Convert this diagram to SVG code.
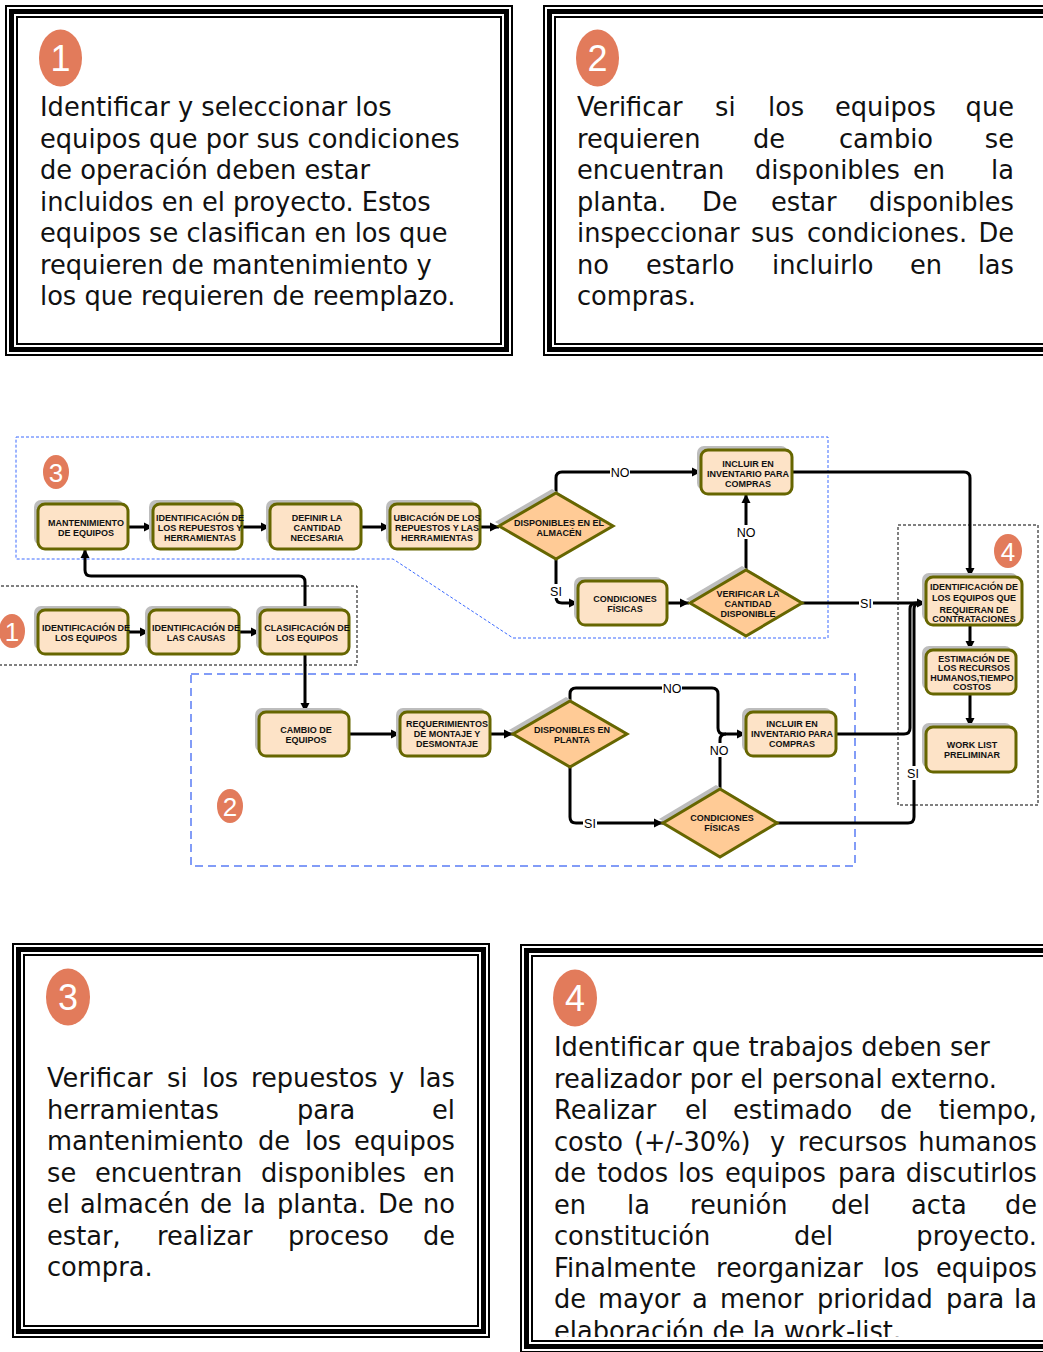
<svg xmlns="http://www.w3.org/2000/svg" width="1043" height="1352" viewBox="0 0 1043 1352">
  <defs>
    <style>
      .f-thin { fill: none; stroke: #000; stroke-width: 2; }
      .f-thick { fill: none; stroke: #000; stroke-width: 5; }
      .body { font-family: "DejaVu Sans", Verdana, sans-serif; font-size: 25.7px; fill: #111; }
      .r { text-anchor: end; }
      .badge { fill: #E27B5B; }
      .bnum { font-family: "Liberation Sans", Arial, sans-serif; fill: #fff; text-anchor: middle; }
      .shadow { fill: #BDBDBD; }
      .node { fill: #FDE3C7; stroke: #666600; stroke-width: 3; }
      .dec { fill: #FFCB96; stroke: #666600; stroke-width: 3; }
      .lbl { font-family: "Liberation Sans", Arial, sans-serif; font-weight: bold; font-size: 9px; fill: #111; text-anchor: middle; }
      .edge { fill: none; stroke: #000; stroke-width: 3; }
      .arrow { marker-end: url(#arr); }
      .yn { font-family: "Liberation Sans", Arial, sans-serif; font-size: 12.5px; fill: #000; text-anchor: middle; }
      .ynbg { fill: #fff; }
      .zone-blue-fine { fill: none; stroke: #3D6BFF; stroke-width: 1; stroke-dasharray: 3 2; }
      .zone-blue { fill: none; stroke: #5A7CF5; stroke-width: 1.5; stroke-dasharray: 8 5; }
      .zone-black { fill: none; stroke: #000; stroke-width: 1; stroke-dasharray: 3 2; }
    </style>
    <marker id="arr" markerUnits="userSpaceOnUse" markerWidth="10" markerHeight="10" refX="9" refY="5" orient="auto">
      <path d="M0,0.5 L9,5 L0,9.5 Z" fill="#000"/>
    </marker>
    <clipPath id="clip4">
      <rect x="532" y="956" width="520" height="381"/>
    </clipPath>
  </defs>

  <rect x="0" y="0" width="1043" height="1352" fill="#fff"/>

  <!-- Text panel 1 -->
  <g id="panel-1">
    <rect x="6" y="6" width="506" height="349" class="f-thin"/>
    <rect x="11.5" y="11.5" width="495" height="338" class="f-thick"/>
    <rect x="17" y="17" width="484" height="327" class="f-thin"/>
    <ellipse cx="60.5" cy="58" rx="21.5" ry="28.5" class="badge"/>
    <text x="60.5" y="71" class="bnum" font-size="36">1</text>
    <text class="body">
      <tspan x="40" y="116">Identificar y seleccionar los</tspan>
      <tspan x="40" y="147.5">equipos que por sus condiciones</tspan>
      <tspan x="40" y="179">de operación deben estar</tspan>
      <tspan x="40" y="210.5">incluidos en el proyecto. Estos</tspan>
      <tspan x="40" y="242">equipos se clasifican en los que</tspan>
      <tspan x="40" y="273.5">requieren de mantenimiento y</tspan>
      <tspan x="40" y="305">los que requieren de reemplazo.</tspan>
    </text>
  </g>

  <!-- Text panel 2 -->
  <g id="panel-2">
    <rect x="544" y="6" width="515" height="349" class="f-thin"/>
    <rect x="549.5" y="11.5" width="504" height="338" class="f-thick"/>
    <rect x="555" y="17" width="493" height="327" class="f-thin"/>
    <ellipse cx="597.5" cy="58" rx="21.5" ry="28.5" class="badge"/>
    <text x="597.5" y="71" class="bnum" font-size="36">2</text>
    <text class="body" y="116"><tspan x="577">Verificar</tspan><tspan x="715">si</tspan><tspan x="768">los</tspan><tspan x="835">equipos</tspan></text>
    <text class="body r" x="1014" y="116">que</text>
    <text class="body" y="147.5"><tspan x="577">requieren</tspan><tspan x="753">de</tspan><tspan x="839">cambio</tspan></text>
    <text class="body r" x="1014" y="147.5">se</text>
    <text class="body" y="179"><tspan x="577">encuentran</tspan><tspan x="755">disponibles</tspan><tspan x="913">en</tspan></text>
    <text class="body r" x="1014" y="179">la</text>
    <text class="body" y="210.5"><tspan x="577">planta.</tspan><tspan x="702">De</tspan><tspan x="771">estar</tspan></text>
    <text class="body r" x="1014" y="210.5">disponibles</text>
    <text class="body" y="242"><tspan x="577">inspeccionar</tspan><tspan x="751">sus</tspan><tspan x="807">condiciones.</tspan></text>
    <text class="body r" x="1014" y="242">De</text>
    <text class="body" y="273.5"><tspan x="577">no</tspan><tspan x="646">estarlo</tspan><tspan x="772">incluirlo</tspan><tspan x="910">en</tspan></text>
    <text class="body r" x="1014" y="273.5">las</text>
    <text class="body" x="577" y="305">compras.</text>
  </g>

  <!-- Text panel 3 -->
  <g id="panel-3">
    <rect x="13" y="944" width="476" height="393" class="f-thin"/>
    <rect x="18.5" y="949.5" width="465" height="382" class="f-thick"/>
    <rect x="24" y="955" width="454" height="371" class="f-thin"/>
    <ellipse cx="68" cy="997" rx="22" ry="28.5" class="badge"/>
    <text x="68" y="1010" class="bnum" font-size="36">3</text>
    <text class="body" y="1087"><tspan x="47">Verificar</tspan><tspan x="167">si</tspan><tspan x="202">los</tspan><tspan x="251">repuestos</tspan><tspan x="389">y</tspan></text>
    <text class="body r" x="455" y="1087">las</text>
    <text class="body" y="1118.5"><tspan x="47">herramientas</tspan><tspan x="297">para</tspan></text>
    <text class="body r" x="455" y="1118.5">el</text>
    <text class="body" y="1150"><tspan x="47">mantenimiento</tspan><tspan x="258">de</tspan><tspan x="305">los</tspan></text>
    <text class="body r" x="455" y="1150">equipos</text>
    <text class="body" y="1181.5"><tspan x="47">se</tspan><tspan x="95">encuentran</tspan><tspan x="261">disponibles</tspan></text>
    <text class="body r" x="455" y="1181.5">en</text>
    <text class="body" y="1213"><tspan x="47">el</tspan><tspan x="80">almacén</tspan><tspan x="200">de</tspan><tspan x="243">la</tspan><tspan x="277">planta.</tspan><tspan x="378">De</tspan></text>
    <text class="body r" x="455" y="1213">no</text>
    <text class="body" y="1244.5"><tspan x="47">estar,</tspan><tspan x="157">realizar</tspan><tspan x="288">proceso</tspan></text>
    <text class="body r" x="455" y="1244.5">de</text>
    <text class="body" x="47" y="1276">compra.</text>
  </g>

  <!-- Text panel 4 -->
  <g id="panel-4">
    <rect x="521" y="945" width="538" height="407" class="f-thin"/>
    <rect x="526.5" y="950.5" width="527" height="396" class="f-thick"/>
    <rect x="532" y="956" width="516" height="385" class="f-thin"/>
    <ellipse cx="575" cy="998" rx="22" ry="28.5" class="badge"/>
    <text x="575" y="1011" class="bnum" font-size="36">4</text>
    <g clip-path="url(#clip4)">
      <text class="body" x="554" y="1056">Identificar que trabajos deben ser</text>
      <text class="body" x="554" y="1087.5">realizador por el personal externo.</text>
      <text class="body" y="1119"><tspan x="554">Realizar</tspan><tspan x="685">el</tspan><tspan x="733">estimado</tspan><tspan x="880">de</tspan></text>
      <text class="body r" x="1037" y="1119">tiempo,</text>
      <text class="body" y="1150.5"><tspan x="554">costo</tspan><tspan x="634">(+/-30%)</tspan><tspan x="770">y</tspan><tspan x="798">recursos</tspan></text>
      <text class="body r" x="1037" y="1150.5">humanos</text>
      <text class="body" y="1182"><tspan x="554">de</tspan><tspan x="597">todos</tspan><tspan x="678">los</tspan><tspan x="725">equipos</tspan><tspan x="838">para</tspan></text>
      <text class="body r" x="1037" y="1182">discutirlos</text>
      <text class="body" y="1213.5"><tspan x="554">en</tspan><tspan x="627">la</tspan><tspan x="690">reunión</tspan><tspan x="831">del</tspan><tspan x="911">acta</tspan></text>
      <text class="body r" x="1037" y="1213.5">de</text>
      <text class="body" y="1245"><tspan x="554">constitución</tspan><tspan x="794">del</tspan></text>
      <text class="body r" x="1037" y="1245">proyecto.</text>
      <text class="body" y="1276.5"><tspan x="554">Finalmente</tspan><tspan x="716">reorganizar</tspan><tspan x="883">los</tspan></text>
      <text class="body r" x="1037" y="1276.5">equipos</text>
      <text class="body" y="1308"><tspan x="554">de</tspan><tspan x="598">mayor</tspan><tspan x="692">a</tspan><tspan x="720">menor</tspan><tspan x="817">prioridad</tspan><tspan x="946">para</tspan></text>
      <text class="body r" x="1037" y="1308">la</text>
      <text class="body" x="554" y="1339.5">elaboración de la work-list.</text>
    </g>
  </g>

  <!-- Process zones -->
  <g id="zones">
    <path d="M16,437 H828 V638 H513 L393,559 H16 Z" class="zone-blue-fine"/>
    <rect x="-4" y="586" width="361" height="79" class="zone-black"/>
    <rect x="191" y="674" width="664" height="192" class="zone-blue"/>
    <rect x="898" y="525" width="140" height="280" class="zone-black"/>
    <ellipse cx="56" cy="472" rx="13" ry="17" class="badge"/>
    <text x="56" y="481.5" class="bnum" font-size="26">3</text>
    <ellipse cx="12" cy="631" rx="13" ry="17" class="badge"/>
    <text x="12" y="640.5" class="bnum" font-size="26">1</text>
    <ellipse cx="230" cy="806" rx="13" ry="17" class="badge"/>
    <text x="230" y="815.5" class="bnum" font-size="26">2</text>
    <ellipse cx="1008" cy="551" rx="14" ry="17" class="badge"/>
    <text x="1008" y="560.5" class="bnum" font-size="26">4</text>
  </g>

  <!-- Connectors -->
  <g id="connectors">
    <path d="M128,527 H153" class="edge arrow"/>
    <path d="M242,527 H270" class="edge arrow"/>
    <path d="M361,527 H390" class="edge arrow"/>
    <path d="M480,527 H499" class="edge arrow"/>
    <path d="M556,493 V478 Q556,472 562,472 H701" class="edge arrow"/>
    <path d="M556,559 V597 Q556,603 562,603 H578" class="edge arrow"/>
    <path d="M667,603 H689" class="edge arrow"/>
    <path d="M746,570 V494" class="edge arrow"/>
    <path d="M802,603 H926" class="edge arrow"/>
    <path d="M792,472 H964 Q970,472 970,478 V577" class="edge arrow"/>
    <path d="M128,632 H149" class="edge arrow"/>
    <path d="M239,632 H260" class="edge arrow"/>
    <path d="M305,610 V582 Q305,576 299,576 H91 Q85,576 85,570 V549" class="edge arrow"/>
    <path d="M305,654 V712" class="edge arrow"/>
    <path d="M349,734 H400" class="edge arrow"/>
    <path d="M490,734 H513" class="edge arrow"/>
    <path d="M570,701 V694 Q570,688 576,688 H712 Q718,688 718,694 V728 Q718,734 724,734 H746" class="edge arrow"/>
    <path d="M720,789 V740 Q720,734 726,734" class="edge"/>
    <path d="M570,767 V817 Q570,823 576,823 H663" class="edge arrow"/>
    <path d="M836,734 H904 Q910,734 910,728 V609 Q910,603 916,603 H924" class="edge"/>
    <path d="M776,823 H908 Q914,823 914,817 V609 Q914,603 920,603 H924" class="edge"/>
    <path d="M970,625 V650" class="edge arrow"/>
    <path d="M970,694 V727" class="edge arrow"/>

    <rect x="610" y="465" width="20" height="14" class="ynbg"/>
    <text x="620" y="476.5" class="yn">NO</text>
    <rect x="736" y="525" width="20" height="14" class="ynbg"/>
    <text x="746" y="536.5" class="yn">NO</text>
    <rect x="549" y="584" width="14" height="14" class="ynbg"/>
    <text x="556" y="595.5" class="yn">SI</text>
    <rect x="859" y="596" width="14" height="14" class="ynbg"/>
    <text x="866" y="607.5" class="yn">SI</text>
    <rect x="662" y="681" width="20" height="14" class="ynbg"/>
    <text x="672" y="692.5" class="yn">NO</text>
    <rect x="709" y="743" width="20" height="14" class="ynbg"/>
    <text x="719" y="754.5" class="yn">NO</text>
    <rect x="583" y="816" width="14" height="14" class="ynbg"/>
    <text x="590" y="827.5" class="yn">SI</text>
    <rect x="906" y="766" width="14" height="14" class="ynbg"/>
    <text x="913" y="777.5" class="yn">SI</text>
  </g>

  <!-- Process steps -->
  <g id="n-mantenimiento">
    <rect x="34" y="500" width="90" height="45" rx="7" class="shadow"/>
    <rect x="38" y="504" width="90" height="45" rx="7" class="node"/>
    <text class="lbl"><tspan x="86" y="525.5">MANTENIMIENTO</tspan><tspan x="86" y="535.5">DE EQUIPOS</tspan></text>
  </g>
  <g id="n-repuestos">
    <rect x="149" y="500" width="89" height="45" rx="7" class="shadow"/>
    <rect x="153" y="504" width="89" height="45" rx="7" class="node"/>
    <text class="lbl"><tspan x="200" y="520.5">IDENTIFICACIÓN DE</tspan><tspan x="200" y="530.5">LOS REPUESTOS Y</tspan><tspan x="200" y="540.5">HERRAMIENTAS</tspan></text>
  </g>
  <g id="n-cantidad">
    <rect x="266" y="500" width="91" height="45" rx="7" class="shadow"/>
    <rect x="270" y="504" width="91" height="45" rx="7" class="node"/>
    <text class="lbl"><tspan x="317" y="520.5">DEFINIR LA</tspan><tspan x="317" y="530.5">CANTIDAD</tspan><tspan x="317" y="540.5">NECESARIA</tspan></text>
  </g>
  <g id="n-ubicacion">
    <rect x="386" y="500" width="90" height="45" rx="7" class="shadow"/>
    <rect x="390" y="504" width="90" height="45" rx="7" class="node"/>
    <text class="lbl"><tspan x="437" y="520.5">UBICACIÓN DE LOS</tspan><tspan x="437" y="530.5">REPUESTOS Y LAS</tspan><tspan x="437" y="540.5">HERRAMIENTAS</tspan></text>
  </g>
  <g id="d-almacen">
    <polygon points="495,522 552,489 609,522 552,555" class="shadow"/>
    <polygon points="499,526 556,493 613,526 556,559" class="dec"/>
    <text class="lbl"><tspan x="559" y="526">DISPONIBLES EN EL</tspan><tspan x="559" y="536">ALMACÉN</tspan></text>
  </g>
  <g id="n-incluir-1">
    <rect x="697" y="446" width="91" height="44" rx="7" class="shadow"/>
    <rect x="701" y="450" width="91" height="44" rx="7" class="node"/>
    <text class="lbl"><tspan x="748" y="466.5">INCLUIR EN</tspan><tspan x="748" y="476.5">INVENTARIO PARA</tspan><tspan x="748" y="486.5">COMPRAS</tspan></text>
  </g>
  <g id="n-condiciones-1">
    <rect x="574" y="577" width="89" height="44" rx="7" class="shadow"/>
    <rect x="578" y="581" width="89" height="44" rx="7" class="node"/>
    <text class="lbl"><tspan x="625" y="601.5">CONDICIONES</tspan><tspan x="625" y="612">FÍSICAS</tspan></text>
  </g>
  <g id="d-verificar">
    <polygon points="686,599 742,566 798,599 742,632" class="shadow"/>
    <polygon points="690,603 746,570 802,603 746,636" class="dec"/>
    <text class="lbl"><tspan x="748" y="597">VERIFICAR LA</tspan><tspan x="748" y="607">CANTIDAD</tspan><tspan x="748" y="616.5">DISPONIBLE</tspan></text>
  </g>
  <g id="n-id-equipos">
    <rect x="34" y="606" width="90" height="44" rx="7" class="shadow"/>
    <rect x="38" y="610" width="90" height="44" rx="7" class="node"/>
    <text class="lbl"><tspan x="86" y="631">IDENTIFICACIÓN DE</tspan><tspan x="86" y="641">LOS EQUIPOS</tspan></text>
  </g>
  <g id="n-id-causas">
    <rect x="145" y="606" width="90" height="44" rx="7" class="shadow"/>
    <rect x="149" y="610" width="90" height="44" rx="7" class="node"/>
    <text class="lbl"><tspan x="196" y="631">IDENTIFICACIÓN DE</tspan><tspan x="196" y="641">LAS CAUSAS</tspan></text>
  </g>
  <g id="n-clasificacion">
    <rect x="256" y="606" width="89" height="44" rx="7" class="shadow"/>
    <rect x="260" y="610" width="89" height="44" rx="7" class="node"/>
    <text class="lbl"><tspan x="307" y="631">CLASIFICACIÓN DE</tspan><tspan x="307" y="641">LOS EQUIPOS</tspan></text>
  </g>
  <g id="n-cambio">
    <rect x="255" y="708" width="90" height="44" rx="7" class="shadow"/>
    <rect x="259" y="712" width="90" height="44" rx="7" class="node"/>
    <text class="lbl"><tspan x="306" y="733">CAMBIO DE</tspan><tspan x="306" y="743">EQUIPOS</tspan></text>
  </g>
  <g id="n-montaje">
    <rect x="396" y="708" width="90" height="44" rx="7" class="shadow"/>
    <rect x="400" y="712" width="90" height="44" rx="7" class="node"/>
    <text class="lbl"><tspan x="447" y="727">REQUERIMIENTOS</tspan><tspan x="447" y="737">DE MONTAJE Y</tspan><tspan x="447" y="747">DESMONTAJE</tspan></text>
  </g>
  <g id="d-planta">
    <polygon points="509,730 566,697 623,730 566,763" class="shadow"/>
    <polygon points="513,734 570,701 627,734 570,767" class="dec"/>
    <text class="lbl"><tspan x="572" y="733">DISPONIBLES EN</tspan><tspan x="572" y="743">PLANTA</tspan></text>
  </g>
  <g id="n-incluir-2">
    <rect x="742" y="708" width="90" height="44" rx="7" class="shadow"/>
    <rect x="746" y="712" width="90" height="44" rx="7" class="node"/>
    <text class="lbl"><tspan x="792" y="727">INCLUIR EN</tspan><tspan x="792" y="737">INVENTARIO PARA</tspan><tspan x="792" y="747">COMPRAS</tspan></text>
  </g>
  <g id="d-condiciones-2">
    <polygon points="659,819 716,785 773,819 716,853" class="shadow"/>
    <polygon points="663,823 720,789 777,823 720,857" class="dec"/>
    <text class="lbl"><tspan x="722" y="821">CONDICIONES</tspan><tspan x="722" y="831">FÍSICAS</tspan></text>
  </g>
  <g id="n-contrataciones">
    <rect x="922" y="573" width="96" height="48" rx="7" class="shadow"/>
    <rect x="926" y="577" width="96" height="48" rx="7" class="node"/>
    <text class="lbl"><tspan x="974" y="590">IDENTIFICACIÓN DE</tspan><tspan x="974" y="601">LOS EQUIPOS QUE</tspan><tspan x="974" y="613">REQUIERAN DE</tspan><tspan x="974" y="622">CONTRATACIONES</tspan></text>
  </g>
  <g id="n-estimacion">
    <rect x="922" y="646" width="90" height="44" rx="7" class="shadow"/>
    <rect x="926" y="650" width="90" height="44" rx="7" class="node"/>
    <text class="lbl"><tspan x="974" y="662">ESTIMACIÓN DE</tspan><tspan x="974" y="671">LOS RECURSOS</tspan><tspan x="972" y="680.5">HUMANOS,TIEMPO</tspan><tspan x="972" y="690">COSTOS</tspan></text>
  </g>
  <g id="n-worklist">
    <rect x="922" y="723" width="90" height="45" rx="7" class="shadow"/>
    <rect x="926" y="727" width="90" height="45" rx="7" class="node"/>
    <text class="lbl"><tspan x="972" y="748">WORK LIST</tspan><tspan x="972" y="757.5">PRELIMINAR</tspan></text>
  </g>
</svg>
